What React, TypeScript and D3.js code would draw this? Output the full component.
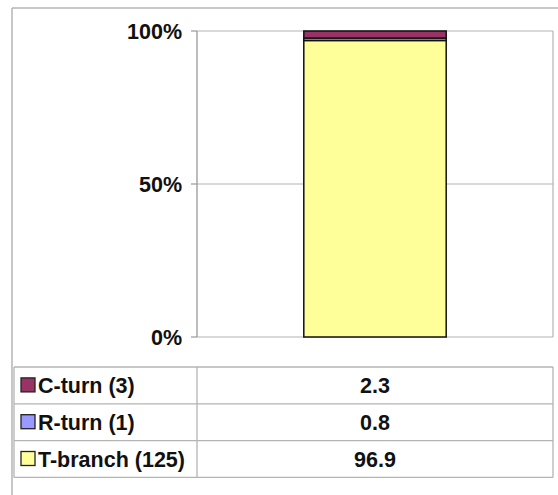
import React from "react";
import * as d3 from "d3";

// Stacked shares (percent) per turn type; counts shown in the legend labels
const seriesNames = ["T-branch (125)", "R-turn (1)", "C-turn (3)"];
const seriesValues = [96.9, 0.8, 2.3];
const seriesColors = ["#FFFF99", "#9999FF", "#993366"];
const categories = ["all"];
const tickValues = [0, 50, 100];
// Table rows are listed top to bottom
const tableOrder = [2, 1, 0];

const W = 558;
const H = 495;
const plot = { left: 197, right: 553, top: 31, bottom: 337 };
const table = { left: 14, mid: 197, right: 553, top: 367, rowH: 36.8 };
const font = "'Liberation Sans', Arial, sans-serif";
const fontSize = 21.5;
const grid = "#b4b4b4";

export default function App() {
  const y = d3.scaleLinear().domain([0, 100]).range([plot.bottom, plot.top]);
  const x = d3
    .scaleBand<string>()
    .domain(categories)
    .range([plot.left, plot.right])
    .paddingInner(0)
    .paddingOuter(0.75);

  const stackData = [
    Object.fromEntries(seriesNames.map((n, i) => [n, seriesValues[i]])),
  ];
  const stacked = d3.stack<any>().keys(seriesNames)(stackData as any);

  return (
    <svg
      width={W}
      height={H}
      style={{ position: "absolute", left: 0, top: 0, background: "#fff" }}
    >
      {/* outer chart frame */}
      <line x1={12} y1={8} x2={W} y2={8} stroke={grid} strokeWidth={1.5} />
      <line x1={12} y1={8} x2={12} y2={H} stroke={grid} strokeWidth={1.5} />

      {/* gridlines and plot border */}
      {tickValues.map((t) => (
        <line
          key={t}
          x1={plot.left}
          x2={plot.right}
          y1={y(t)}
          y2={y(t)}
          stroke={grid}
          strokeWidth={1.2}
        />
      ))}
      <line
        x1={plot.right}
        x2={plot.right}
        y1={plot.top}
        y2={plot.bottom}
        stroke={grid}
        strokeWidth={1.2}
      />

      {/* y axis */}
      <line
        x1={plot.left}
        x2={plot.left}
        y1={plot.top}
        y2={plot.bottom}
        stroke="#999"
        strokeWidth={1.3}
      />
      {tickValues.map((t) => (
        <g key={"tk" + t}>
          <line
            x1={plot.left - 6}
            x2={plot.left}
            y1={y(t)}
            y2={y(t)}
            stroke="#999"
            strokeWidth={1.2}
          />
          <text
            x={plot.left - 15}
            y={y(t)}
            dy="0.36em"
            textAnchor="end"
            fontFamily={font}
            fontWeight="bold"
            fontSize={fontSize}
            fill="#111"
          >
            {t}%
          </text>
        </g>
      ))}

      {/* stacked bar */}
      {stacked.map((layer, i) =>
        layer.map((d, j) => (
          <rect
            key={seriesNames[i] + j}
            x={x(categories[j])!}
            width={x.bandwidth()}
            y={y(d[1])}
            height={y(d[0]) - y(d[1])}
            fill={seriesColors[i]}
            stroke="#111"
            strokeWidth={1.5}
          />
        ))
      )}

      {/* data table */}
      {tableOrder.map((si, r) => {
        const top = table.top + r * table.rowH;
        const cy = top + table.rowH / 2;
        return (
          <g key={"row" + si}>
            <rect
              x={21}
              y={cy - 7.5}
              width={14}
              height={14}
              fill={seriesColors[si]}
              stroke="#222"
              strokeWidth={1.3}
            />
            <text
              x={38}
              y={cy}
              dy="0.36em"
              fontFamily={font}
              fontWeight="bold"
              fontSize={fontSize}
              fill="#111"
            >
              {seriesNames[si]}
            </text>
            <text
              x={(table.mid + table.right) / 2}
              y={cy}
              dy="0.36em"
              textAnchor="middle"
              fontFamily={font}
              fontWeight="bold"
              fontSize={fontSize}
              fill="#111"
            >
              {seriesValues[si]}
            </text>
          </g>
        );
      })}
      {d3.range(tableOrder.length + 1).map((r) => (
        <line
          key={"hl" + r}
          x1={table.left}
          x2={table.right}
          y1={table.top + r * table.rowH}
          y2={table.top + r * table.rowH}
          stroke={grid}
          strokeWidth={1.3}
        />
      ))}
      {[table.left, table.mid, table.right].map((xx) => (
        <line
          key={"vl" + xx}
          x1={xx}
          x2={xx}
          y1={table.top}
          y2={table.top + tableOrder.length * table.rowH}
          stroke={grid}
          strokeWidth={1.3}
        />
      ))}
    </svg>
  );
}
